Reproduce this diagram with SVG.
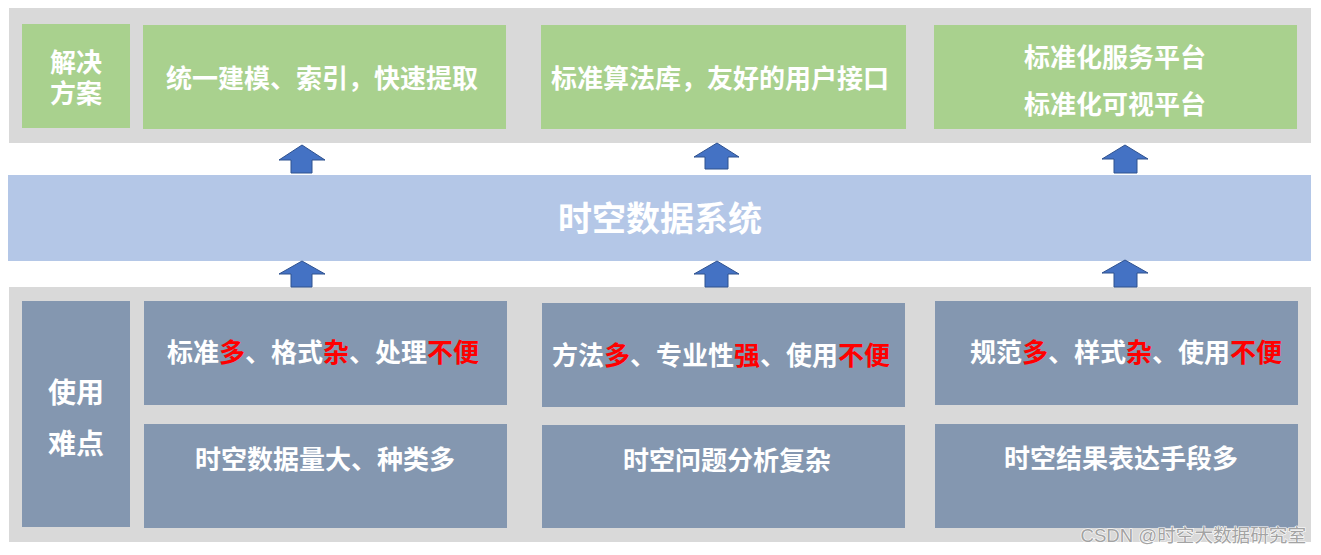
<svg xmlns="http://www.w3.org/2000/svg" width="1321" height="555" viewBox="0 0 1321 555">
<style>
.panel{fill:#D9D9D9}
.green{fill:#A9D18E}
.slate{fill:#8497B0}
.band{fill:#B4C7E7}
.arrow{fill:#4472C4;stroke:#2F528F;stroke-width:1}
.t{font-family:"Noto Sans CJK SC","Noto Sans",sans-serif;font-weight:700;fill:#FFFFFF;text-anchor:middle}
.r{fill:#FF0000}
.wm{font-family:"Liberation Sans","Noto Sans CJK SC",sans-serif;font-size:18.6px;fill:#A3A3A3;stroke:#FFFFFF;stroke-width:1.2;paint-order:stroke;text-anchor:end}
</style>
<rect x="0" y="0" width="1321" height="555" fill="#FFFFFF"/>
<g id="solution-panel">
<rect class="panel" x="9" y="8" width="1302" height="135"/>
</g>
<g id="solution-label">
<rect class="green" x="22" y="24" width="108" height="104"/>
<text class="t" font-size="26"><tspan x="76" y="72">解决</tspan><tspan x="76" y="103">方案</tspan></text>
</g>
<g id="solution-1">
<rect class="green" x="143" y="25" width="363" height="104"/>
<text class="t" font-size="26" x="322" y="88">统一建模、索引，快速提取</text>
</g>
<g id="solution-2">
<rect class="green" x="541" y="25" width="365" height="104"/>
<text class="t" font-size="26" x="720" y="88">标准算法库，友好的用户接口</text>
</g>
<g id="solution-3">
<rect class="green" x="934" y="25" width="363" height="104"/>
<text class="t" font-size="26"><tspan x="1115" y="67">标准化服务平台</tspan><tspan x="1115" y="114">标准化可视平台</tspan></text>
</g>
<g id="system">
<rect class="band" x="8" y="175" width="1303" height="86"/>
<text class="t" font-size="34" x="660" y="231">时空数据系统</text>
</g>
<g id="difficulty-panel">
<rect class="panel" x="9" y="287" width="1302" height="255"/>
</g>
<g id="difficulty-label">
<rect class="slate" x="22" y="301" width="108" height="226"/>
<text class="t" font-size="28"><tspan x="76" y="403">使用</tspan><tspan x="76" y="454">难点</tspan></text>
</g>
<g id="difficulty-1a">
<rect class="slate" x="144" y="301" width="363" height="104"/>
<text class="t" font-size="26" x="323" y="362">标准<tspan class="r">多</tspan>、格式<tspan class="r">杂</tspan>、处理<tspan class="r">不便</tspan></text>
</g>
<g id="difficulty-1b">
<rect class="slate" x="144" y="424" width="363" height="104"/>
<text class="t" font-size="26" x="325" y="469">时空数据量大、种类多</text>
</g>
<g id="difficulty-2a">
<rect class="slate" x="542" y="303" width="363" height="104"/>
<text class="t" font-size="26" x="721" y="365">方法<tspan class="r">多</tspan>、专业性<tspan class="r">强</tspan>、使用<tspan class="r">不便</tspan></text>
</g>
<g id="difficulty-2b">
<rect class="slate" x="542" y="425" width="363" height="103"/>
<text class="t" font-size="26" x="727" y="470">时空问题分析复杂</text>
</g>
<g id="difficulty-3a">
<rect class="slate" x="935" y="301" width="363" height="104"/>
<text class="t" font-size="26" x="1126" y="362">规范<tspan class="r">多</tspan>、样式<tspan class="r">杂</tspan>、使用<tspan class="r">不便</tspan></text>
</g>
<g id="difficulty-3b">
<rect class="slate" x="935" y="424" width="363" height="104"/>
<text class="t" font-size="26" x="1121" y="468">时空结果表达手段多</text>
</g>
<g id="connectors">
<path class="arrow" d="M302 145 L325 160 L312 160 L312 173 L291 173 L291 160 L279 160 Z"/>
<path class="arrow" d="M717 143 L739 157 L728 157 L728 169 L705 169 L705 157 L694 157 Z"/>
<path class="arrow" d="M1125 145 L1148 159 L1137 159 L1137 173 L1114 173 L1114 159 L1102 159 Z"/>
<path class="arrow" d="M302 261 L325 274 L312 274 L312 287 L291 287 L291 274 L279 274 Z"/>
<path class="arrow" d="M717 261 L739 274 L728 274 L728 287 L705 287 L705 274 L694 274 Z"/>
<path class="arrow" d="M1125 260 L1148 273 L1137 273 L1137 287 L1114 287 L1114 273 L1102 273 Z"/>
</g>
<text class="wm" x="1306" y="542">CSDN @时空大数据研究室</text>
</svg>
